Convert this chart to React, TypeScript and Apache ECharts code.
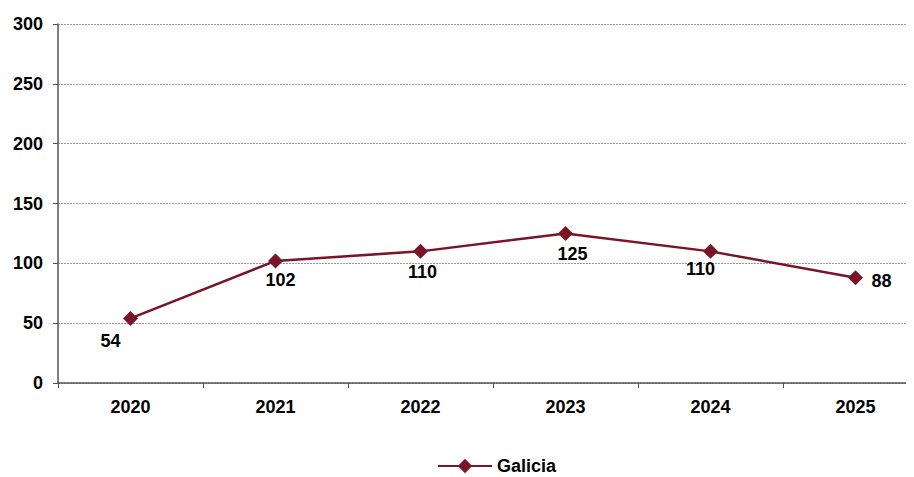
import React, { useEffect, useRef } from "react";
import * as echarts from "echarts";

const categories = ["2020", "2021", "2022", "2023", "2024", "2025"];
const galiciaValues = [54, 102, 110, 125, 110, 88];
const labelOffsets: [number, number][] = [
  [-20, 23],
  [5, 19],
  [2, 21],
  [7, 21],
  [-10, 18],
  [26, 3],
];
const seriesName = "Galicia";
const lineColor = "#7B1426";

export default function App() {
  const ref = useRef<HTMLDivElement>(null);
  useEffect(() => {
    if (!ref.current) return;
    const chart = echarts.init(ref.current, undefined, { renderer: "svg" });
    const font = "'Liberation Sans', Arial, sans-serif";
    chart.setOption({
      animation: false,
      grid: { left: 50, top: 16, width: 870, height: 359, containLabel: false },
      legend: {
        top: 449,
        left: 429,
        itemWidth: 54,
        itemHeight: 18,
        itemGap: 6,
        padding: 0,
        textStyle: { fontFamily: font, fontWeight: "bold", fontSize: 18, lineHeight: 18, color: "#000" },
        data: [seriesName],
      },
      xAxis: {
        type: "category",
        data: categories,
        boundaryGap: true,
        axisLine: { lineStyle: { color: "#555", width: 1.5 } },
        axisTick: { show: true, length: 5, lineStyle: { color: "#555" } },
        axisLabel: { fontFamily: font, fontWeight: "bold", fontSize: 18, color: "#000", margin: 15 },
      },
      yAxis: {
        type: "value",
        min: 0,
        max: 300,
        interval: 50,
        axisLine: { show: true, lineStyle: { color: "#555", width: 1.5 } },
        axisTick: { show: true, length: 5, lineStyle: { color: "#555" } },
        axisLabel: { fontFamily: font, fontWeight: "bold", fontSize: 18, color: "#000", margin: 15 },
        splitLine: { lineStyle: { color: "#999", type: [2, 1], width: 1 } },
      },
      series: [
        {
          name: seriesName,
          type: "line",
          data: galiciaValues.map((v, i) => ({
            value: v,
            label: { offset: labelOffsets[i] },
          })),
          symbol: "diamond",
          symbolSize: 15,
          lineStyle: { color: lineColor, width: 2.5 },
          itemStyle: { color: lineColor },
          label: {
            show: true,
            position: "inside",
            fontFamily: font,
            fontWeight: "bold",
            fontSize: 18,
            color: "#000",
          },
        },
      ],
    });
    return () => chart.dispose();
  }, []);
  return (
    <div style={{ width: 906, height: 469, overflow: "hidden" }}>
      <div ref={ref} style={{ width: 930, height: 469 }} />
    </div>
  );
}
